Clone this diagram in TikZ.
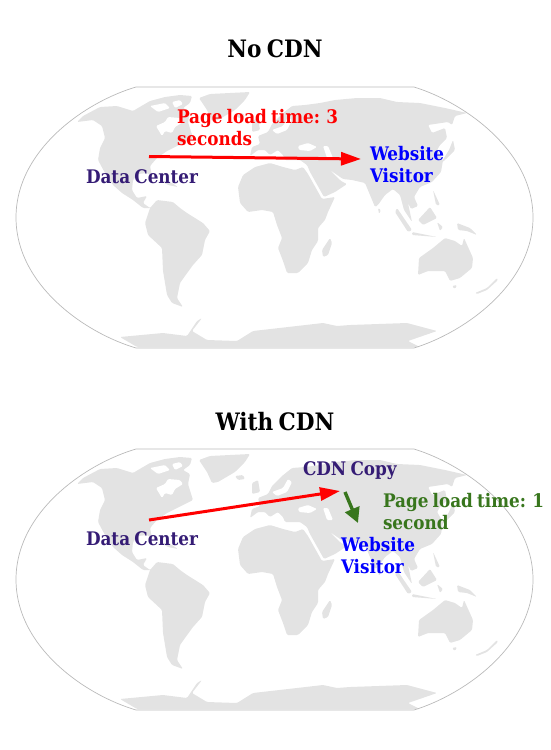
\documentclass[tikz,border=0pt]{standalone}
\usepackage{fontspec}
\setmainfont{DejaVu Serif Condensed}[BoldFont={DejaVu Serif Condensed Bold},WordSpace=0.72]
\usetikzlibrary{arrows.meta}
\definecolor{sitepurple}{HTML}{351C75}
\definecolor{cdngreen}{HTML}{38761D}
\begin{document}
\begin{tikzpicture}[x=1pt,y=-1pt,line cap=butt,line join=round,
  every node/.style={inner sep=0pt,outer sep=0pt},
  land/.style={fill=black!11,draw=none,rounded corners=1.2pt},
  sea/.style={fill=white,draw=none,rounded corners=1.2pt},
  rim/.style={draw=black!27,line width=.7pt},
  head/.style={font=\fontsize{24}{28}\selectfont\bfseries,anchor=base},
  lbl/.style={font=\fontsize{18.7}{22.5}\selectfont\bfseries,anchor=north west,align=left},
  slow/.style={draw=red,line width=3pt,-{Triangle[length=20pt,width=13pt]}},
  fast/.style={draw=cdngreen,line width=3.4pt,-{Triangle[length=15pt,width=15pt]}}]
  \useasboundingbox (0,0) rectangle (550,750);

  %% ---- both world maps, the second one 362 lower
  \foreach \dy in {0,362}{
  \begin{scope}[yshift=-\dy pt]
    % north america with the arctic islands, hudson bay cut out, greenland
    \fill[land] (77,122) -- (83,116) -- (100,107) -- (117,106) -- (133,111) -- (138,108) -- (150,101) -- (165,97) -- (180,95) -- (192,96) -- (190,103) -- (183,108) -- (190,112) -- (188,122) -- (193,138) -- (183,143) -- (167,151) -- (157,158) -- (150,166) -- (152,176) -- (147,173) -- (138,174) -- (133,180) -- (132,190) -- (137,198) -- (147,196) -- (143,203) -- (150,208) -- (155,205) -- (157,208) -- (143,208) -- (133,200) -- (122,193) -- (113,185) -- (105,173) -- (98,160) -- (100,148) -- (105,138) -- (102,126) -- (93,120) -- cycle;
    \fill[sea] (156,126) -- (165,122) -- (168,117) -- (180,118) -- (183,122) -- (175,127) -- (172,133) -- (165,131) -- (162,136) -- cycle;
    \fill[sea] (150,106) -- (165,103) -- (170,108) -- (158,112) -- cycle;
    \fill[sea] (172,102) -- (180,100) -- (183,104) -- (175,108) -- cycle;
    \fill[land] (199,98) -- (210,94) -- (250,92) -- (245,100) -- (235,110) -- (218,120) -- (212,121) -- (207,110) -- cycle;
    \fill[land] (235,114) -- (243,113) -- (245,117) -- (238,118) -- cycle;
    \fill[land] (160,180) -- (172,183) -- (178,187) -- (168,185) -- cycle;
    % south america
    \fill[land] (150,208) -- (157,200) -- (173,202) -- (180,208) -- (187,213) -- (203,223) -- (210,231) -- (205,240) -- (202,255) -- (193,265) -- (185,276) -- (180,283) -- (177,298) -- (183,307) -- (172,303) -- (167,295) -- (163,271) -- (162,248) -- (148,235) -- (145,223) -- cycle;
    % africa, madagascar
    \fill[land] (238,187) -- (243,175) -- (255,167) -- (270,163) -- (283,167) -- (295,170) -- (303,167) -- (308,174) -- (322,199) -- (335,197) -- (328,212) -- (325,220) -- (318,228) -- (318,241) -- (312,250) -- (308,263) -- (298,273) -- (287,273) -- (283,261) -- (278,248) -- (282,238) -- (277,225) -- (273,212) -- (262,210) -- (248,212) -- (240,203) -- cycle;
    \fill[land] (323,257) -- (322,250) -- (330,238) -- (332,243) -- (328,255) -- cycle;
    % eurasia, with the inner seas cut out after it
    \fill[land] (250,156) -- (252,147) -- (260,144) -- (258,136) -- (268,132) -- (272,124) -- (282,114) -- (292,106) -- (305,105) -- (320,103) -- (335,100) -- (357,98) -- (380,98) -- (397,102) -- (420,103) -- (445,108) -- (467,113) -- (455,116) -- (452,125) -- (448,122) -- (428,125) -- (432,133) -- (445,128) -- (447,138) -- (440,145) -- (437,150) -- (443,160) -- (441,172) -- (432,182) -- (420,187) -- (414,197) -- (418,206) -- (411,209) -- (408,203) -- (412,222) -- (404,210) -- (400,195) -- (393,189) -- (385,195) -- (378,205) -- (375,207) -- (370,195) -- (365,183) -- (352,180) -- (343,179) -- (330,170) -- (341,181) -- (347,184) -- (335,192) -- (324,197) -- (310,172) -- (307,165) -- (300,160) -- (285,160) -- (283,155) -- (278,150) -- (270,155) -- (265,150) -- (258,150) -- cycle;
    \fill[sea] (298,146) -- (308,143) -- (317,147) -- (310,151) -- (299,150) -- cycle;
    \fill[sea] (323,146) -- (328,146) -- (333,158) -- (327,158) -- cycle;
    \fill[sea] (272,130) -- (283,126) -- (288,117) -- (292,120) -- (287,130) -- (277,134) -- cycle;
    % uk, japan and the islands of the south east
    \fill[land] (252,121) -- (258,118) -- (260,130) -- (252,132) -- cycle;
    \fill[land] (453,140) -- (455,150) -- (445,160) -- (441,163) -- (449,150) -- cycle;
    \fill[land] (433,190) -- (440,205) -- (436,205) -- cycle;
    \fill[land] (418,220) -- (430,207) -- (437,218) -- (423,225) -- cycle;
    \fill[land] (397,208) -- (412,230) -- (408,232) -- (395,212) -- cycle;
    \fill[land] (412,232) -- (437,237) -- (412,235) -- cycle;
    \fill[land] (437,222) -- (443,227) -- (440,231) -- cycle;
    \fill[land] (457,223) -- (470,228) -- (477,235) -- (467,231) -- (458,230) -- cycle;
    \fill[land] (378,208) -- (381,210) -- (379,214) -- cycle;
    % australia, tasmania, new zealand
    \fill[land] (418,275) -- (419,258) -- (433,248) -- (445,238) -- (455,241) -- (462,246) -- (464,238) -- (473,258) -- (472,268) -- (460,278) -- (450,281) -- (445,271) -- (428,271) -- cycle;
    \fill[land] (452,286) -- (457,285) -- (455,289) -- cycle;
    \fill[land] (475,293) -- (487,288) -- (497,278) -- (498,280) -- (487,290) -- (477,294) -- cycle;
    % antarctica
    \fill[land] (120,337) -- (163,333) -- (187,336) -- (197,321) -- (202,318) -- (192,331) -- (207,340) -- (237,341) -- (253,331) -- (297,326) -- (323,323) -- (337,326) -- (350,325) -- (407,323) -- (437,331) -- (408,341) -- (420,347) -- (137,347) -- cycle;
    % outline of the map
    \draw[rim] (136,87) -- (414,87) .. controls (463,102) and (533,150) .. (533,217.5) .. controls (533,285) and (463,333) .. (414,348) -- (136,348) .. controls (85,333) and (16,285) .. (16,217.5) .. controls (16,150) and (85,102) .. (136,87) -- cycle;
  \end{scope}
  }

  %% ---- top map: no cdn
  \node[head] (titleNo) at (275,57) {No CDN};
  \coordinate (centerA) at (149,156.5);
  \coordinate (visitorA) at (361,159);
  \draw[slow] (centerA) -- (visitorA);
  \node[lbl,text=red] (timeA) at (177,109) {Page load time: 3\\seconds};
  \node[lbl,text=blue] (siteA) at (370,146) {Website\\Visitor};
  \node[lbl,text=sitepurple] (dataA) at (86,170) {Data Center};

  %% ---- bottom map: with cdn
  \node[head] (titleWith) at (275,430) {With CDN};
  \coordinate (centerB) at (149,520);
  \coordinate (copyB) at (340,491);
  \coordinate (cacheB) at (345,492);
  \coordinate (visitorB) at (358,523);
  \draw[slow] (centerB) -- (copyB);
  \draw[fast] (cacheB) -- (visitorB);
  \node[lbl,text=sitepurple] (copyNode) at (303,462) {CDN Copy};
  \node[lbl,text=cdngreen] (timeB) at (383,493) {Page load time: 1\\second};
  \node[lbl,text=blue] (siteB) at (341,537) {Website\\Visitor};
  \node[lbl,text=sitepurple] (dataB) at (86,532) {Data Center};
\end{tikzpicture}
\end{document}
